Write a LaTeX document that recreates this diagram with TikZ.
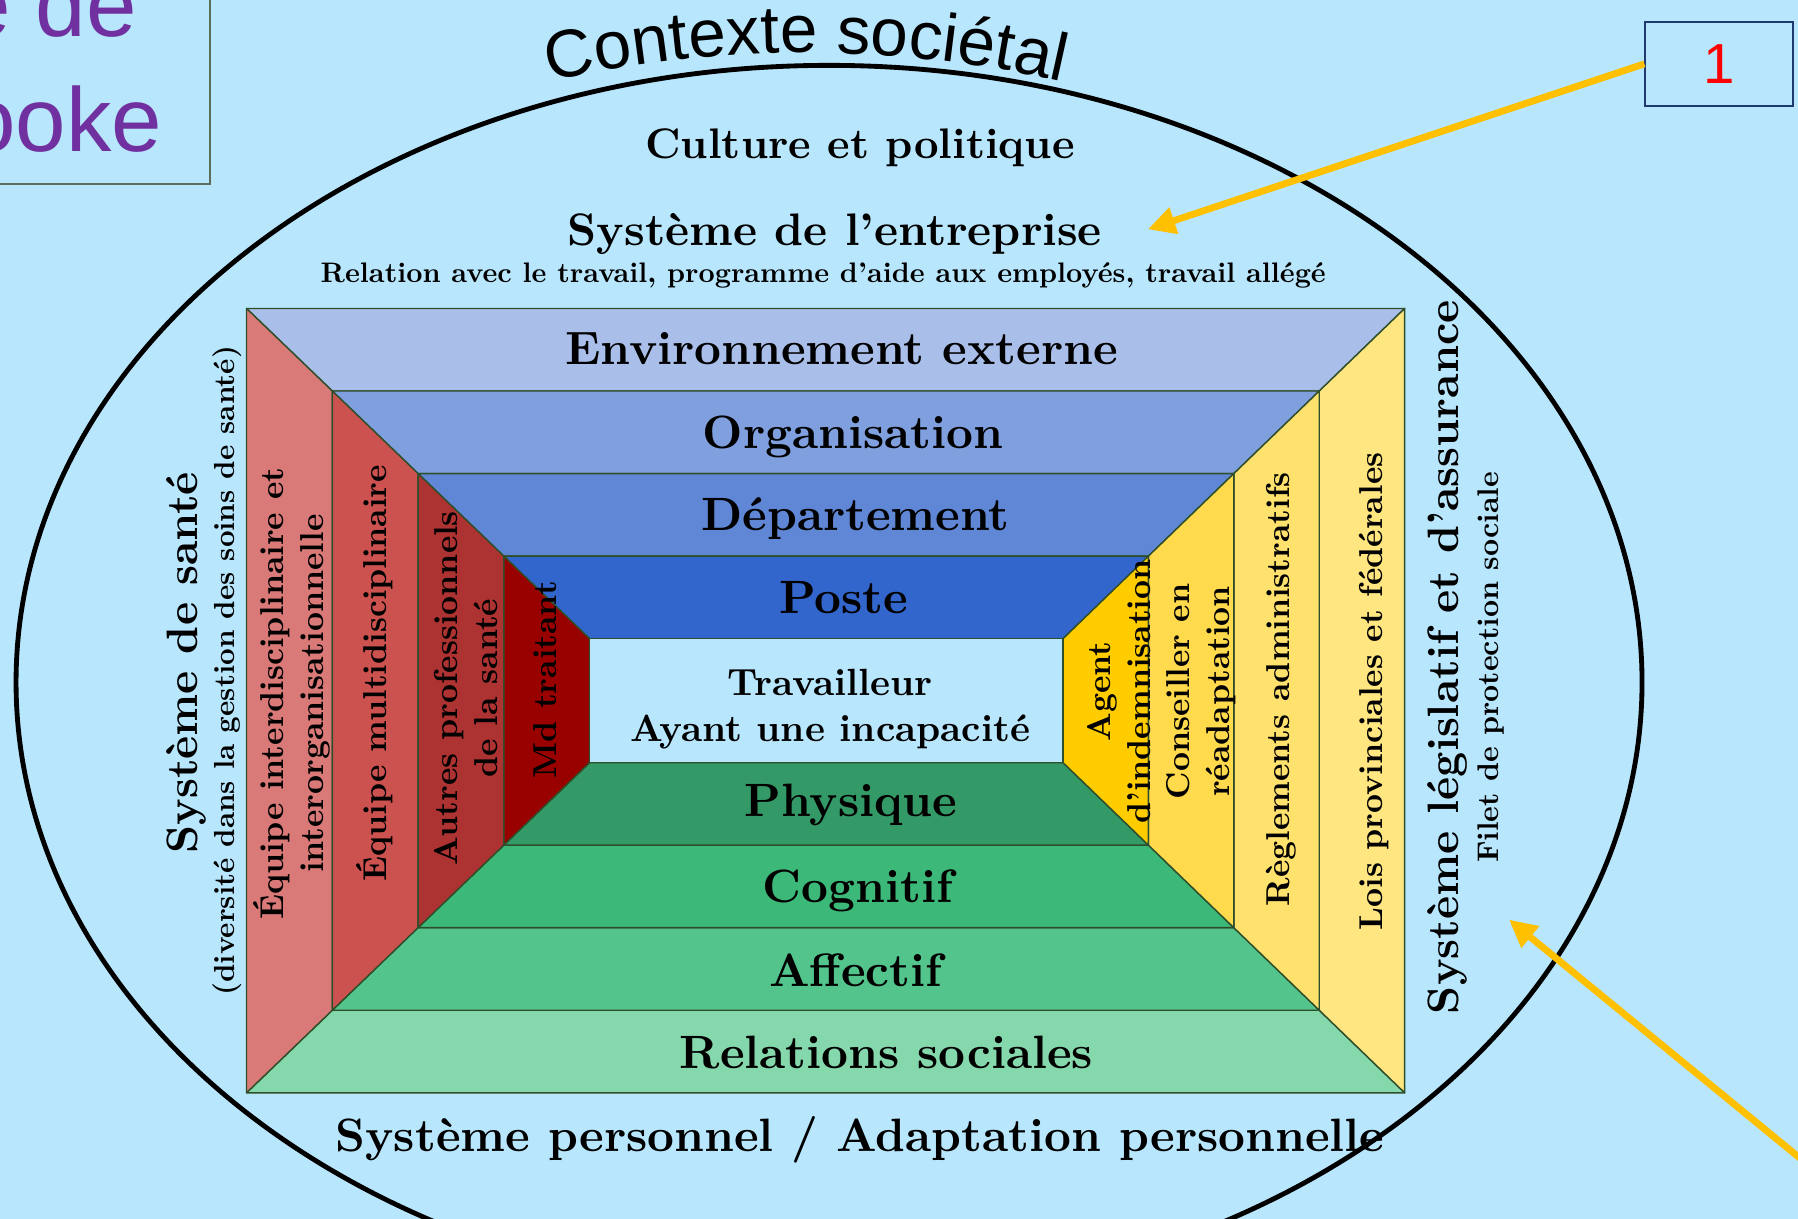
\documentclass[tikz,border=0pt]{standalone}
\usepackage{fontspec}
\usepackage{xcolor}
\usepackage{tikz}
\usetikzlibrary{arrows.meta,decorations.text}
\setmainfont{lmroman10-regular.otf}[BoldFont=lmroman10-bold.otf]
\newfontfamily\arialfont{Liberation Sans}
\definecolor{bg}{HTML}{B8E6FC}
\definecolor{edge}{HTML}{2F4F2A}
\definecolor{envc}{HTML}{A9BEE8}
\definecolor{orgc}{HTML}{7F9FDE}
\definecolor{depc}{HTML}{5F87D5}
\definecolor{postc}{HTML}{3366CC}
\definecolor{physc}{HTML}{339966}
\definecolor{cogc}{HTML}{3CB878}
\definecolor{affc}{HTML}{52C48C}
\definecolor{relc}{HTML}{85D8AC}
\definecolor{redA}{HTML}{D97A78}
\definecolor{redB}{HTML}{CC5250}
\definecolor{redC}{HTML}{AD3232}
\definecolor{redD}{HTML}{990000}
\definecolor{yelA}{HTML}{FFE680}
\definecolor{yelB}{HTML}{FFE16E}
\definecolor{yelC}{HTML}{FFDA4D}
\definecolor{yelD}{HTML}{FFCC00}
\definecolor{arrowc}{HTML}{FFC000}
\definecolor{titlec}{HTML}{7030A0}
\definecolor{boxc}{HTML}{1F3A6E}
\definecolor{framec}{HTML}{5B6E5B}
\tikzset{
  panel/.style={draw=edge, line width=0.35pt, line join=round},
  ring/.style={draw=black, line width=1.2pt},
  pointer/.style={draw=arrowc, line width=1.7pt, -{Triangle[length=2.4mm, width=2.3mm]}},
  band/.style={font=\bfseries\fontsize{11.6}{13}\selectfont, inner sep=0pt},
  lab/.style={font=\bfseries\fontsize{10.6}{12}\selectfont, inner sep=0pt},
  labs/.style={font=\bfseries\fontsize{7}{8}\selectfont, inner sep=0pt},
  worker/.style={font=\bfseries\fontsize{9.4}{11.4}\selectfont, align=center, inner sep=0pt},
  sidebig/.style={rotate=90, font=\bfseries\fontsize{10.9}{12}\selectfont, inner sep=0pt},
  sidesmall/.style={rotate=90, font=\bfseries\fontsize{7.2}{8}\selectfont, inner sep=0pt},
  paneltxt/.style={rotate=90, align=center, font=\bfseries\fontsize{8.2}{9.8}\selectfont, inner sep=0pt},
  titlebox/.style={draw=framec, line width=0.4pt},
  titletxt/.style={text=titlec, font=\arialfont\fontsize{22.5}{27}\selectfont, inner sep=0pt},
  numbox/.style={draw=boxc, line width=0.5pt, minimum width=1.29cm, minimum height=0.735cm,
    text=red, font=\arialfont\fontsize{14}{14}\selectfont},
}
\begin{document}
\begin{tikzpicture}[x=0.01cm, y=-0.01cm]
\useasboundingbox (0,0) rectangle (1568,1063);
\fill[bg] (0,0) rectangle (1568,1063);

% titre coupe en haut a gauche
\draw[titlebox] (-10,-10) rectangle (183,160.5);
\node[titletxt, anchor=base east] (titleA) at (120,32) {e de};
\node[titletxt, anchor=base east] (titleB) at (142,132) {ooke};

% contexte societal
\draw[ring] (723,595) ellipse [x radius=709, y radius=538];
\path[decorate, decoration={text along path, text align=center,
  text={|\arialfont\fontsize{16.7}{16.7}\selectfont|Contexte sociétal}}]
  (703,1046) ++(245:1000) arc[start angle=245, end angle=295, radius=1000];

% coins des cadres
\foreach \k in {0,...,4} {
  \coordinate (tl\k) at ({215+74.8*\k},{269+72*\k});
  \coordinate (tr\k) at ({1225-74.5*\k},{269+72*\k});
  \coordinate (bl\k) at ({215+74.8*\k},{953-72*\k});
  \coordinate (br\k) at ({1225-74.5*\k},{953-72*\k});
}
\foreach \ct/\cb/\cl/\cr [count=\n] in {envc/relc/redA/yelA, orgc/affc/redB/yelB,
    depc/cogc/redC/yelC, postc/physc/redD/yelD} {
  \pgfmathtruncatemacro{\k}{\n-1}
  \filldraw[panel, fill=\ct] (tl\k) -- (tr\k) -- (tr\n) -- (tl\n) -- cycle;
  \filldraw[panel, fill=\cb] (bl\k) -- (br\k) -- (br\n) -- (bl\n) -- cycle;
  \filldraw[panel, fill=\cl] (tl\k) -- (tl\n) -- (bl\n) -- (bl\k) -- cycle;
  \filldraw[panel, fill=\cr] (tr\k) -- (tr\n) -- (br\n) -- (br\k) -- cycle;
}
\filldraw[panel, fill=bg] (tl4) rectangle (br4);

% textes du haut
\node[lab, anchor=base] (culture) at (750,138) {Culture et politique};
\node[lab, anchor=base, font=\bfseries\fontsize{11.3}{13}\selectfont] (entreprise) at (728,214) {Système de l'entreprise};
\node[labs, anchor=base] (relation) at (718,246.5) {Relation avec le travail, programme d'aide aux employés, travail allégé};

% bandes
\node[band, anchor=base] (env) at (734,318) {Environnement externe};
\node[band, anchor=base] (org) at (744,391) {Organisation};
\node[band, anchor=base] (dep) at (746,463) {Département};
\node[band, anchor=base] (poste) at (736,535) {Poste};
\node[worker] (worker) at (724,618) {Travailleur\\Ayant une incapacité};
\node[band, anchor=base] (phys) at (742,712) {Physique};
\node[band, anchor=base] (cog) at (748,787) {Cognitif};
\node[band, anchor=base] (aff) at (746,860) {Affectif};
\node[band, anchor=base] (rel) at (773,932) {Relations sociales};
\node[band, anchor=base] (perso) at (750,1004) {Système personnel / Adaptation personnelle};

% cote gauche
\node[sidebig] (sante) at (163,578) {Système de santé};
\node[sidesmall] (diversite) at (198,585) {(diversité dans la gestion des soins de santé)};
\node[paneltxt] (interdisc) at (254.5,605) {Équipe interdisciplinaire et\\interorganisationnelle};
\node[paneltxt] (multidisc) at (327,587) {Équipe multidisciplinaire};
\node[paneltxt] (autres) at (406.5,600) {Autres professionnels\\de la santé};
\node[paneltxt] (md) at (475,593) {Md traitant};

% cote droit
\node[paneltxt] (agent) at (976,603) {Agent\\d'indemnisation};
\node[paneltxt] (conseiller) at (1047.5,603) {Conseiller en\\réadaptation};
\node[paneltxt] (reglements) at (1117,601) {Règlements administratifs};
\node[paneltxt] (lois) at (1198,603) {Lois provinciales et fédérales};
\node[sidebig] (legis) at (1262,573) {Système législatif et d'assurance};
\node[sidesmall, font=\bfseries\fontsize{7.4}{8}\selectfont] (filet) at (1300,582) {Filet de protection sociale};

% fleches
\node[numbox] (box1) at (1499.5,55.7) {1};
\coordinate (tip1) at (1001,200);
\draw[pointer] (box1.west) -- (tip1);
\coordinate (foot2) at (1610,1043);
\coordinate (tip2) at (1316,802);
\draw[pointer] (foot2) -- (tip2);
\end{tikzpicture}
\end{document}
